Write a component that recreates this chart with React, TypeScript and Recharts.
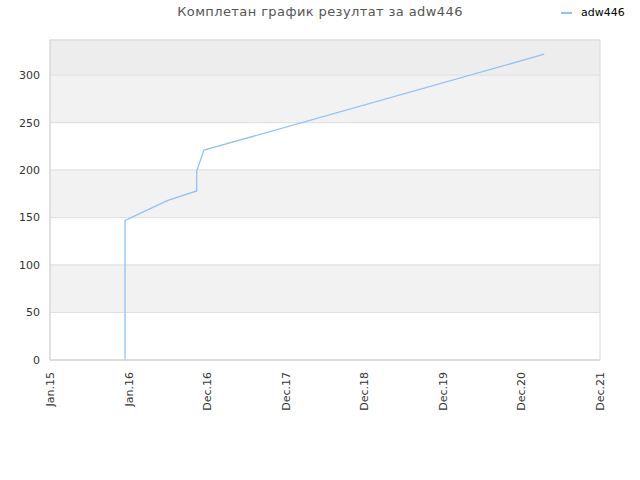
import { LineChart, Line, XAxis, YAxis, CartesianGrid, ReferenceArea, ReferenceLine } from "recharts";

// x position in "tick slots" (0 = Jan.15, 1 = Jan.16, ... 7 = Dec.21)
const tickLabels = ["Jan.15", "Jan.16", "Dec.16", "Dec.17", "Dec.18", "Dec.19", "Dec.20", "Dec.21"];
const xs = [0.955, 0.955, 1.5, 1.867, 1.867, 1.96, 6.29];
const scores = [0, 147, 168, 178, 199, 221, 322];
const yTicks = [0, 50, 100, 150, 200, 250, 300];
const bands = [
  { from: 50, to: 100, fill: "#f2f2f2" },
  { from: 150, to: 200, fill: "#f2f2f2" },
  { from: 250, to: 300, fill: "#f2f2f2" },
  { from: 300, to: 337, fill: "#ededed" },
];

const data = xs.map((x, i) => ({ x, score: scores[i] }));

const XTick = (props: any) => {
  const { x, y, payload } = props;
  return (
    <text
      x={x}
      y={y}
      transform={`rotate(-90, ${x}, ${y})`}
      textAnchor="end"
      dy={4}
      fontSize={11}
      fill="#333"
      fontFamily="DejaVu Sans"
    >
      {tickLabels[payload.value]}
    </text>
  );
};

export default function App() {
  return (
    <div style={{ position: "absolute", left: 0, top: 0, width: 640, height: 480, background: "#fff" }}>
      <div
        style={{
          position: "absolute",
          top: 4,
          left: 2,
          width: 636,
          textAlign: "center",
          fontFamily: "DejaVu Sans",
          fontSize: 13,
          color: "#555",
          letterSpacing: 0.4,
        }}
      >
        Комплетан график резултат за adw446
      </div>
      <div
        style={{
          position: "absolute",
          top: 6,
          left: 561,
          display: "flex",
          alignItems: "center",
          fontFamily: "DejaVu Sans",
          fontSize: 11,
          color: "#000",
        }}
      >
        <span style={{ display: "inline-block", width: 11, height: 2, background: "#90c2f5", marginRight: 9 }} />
        adw446
      </div>
      <LineChart width={640} height={480} data={data} margin={{ top: 40, right: 40, bottom: 0, left: 0 }}>
        <CartesianGrid vertical={false} stroke="#e0e0e0" strokeDasharray="" />
        {bands.map((b, i) => (
          <ReferenceArea key={i} y1={b.from} y2={b.to} fill={b.fill} fillOpacity={1} stroke="none" ifOverflow="hidden" />
        ))}
        {yTicks.map((t) => (
          <ReferenceLine key={t} y={t} stroke="#e0e0e0" strokeWidth={1} />
        ))}
        <ReferenceArea x1={0} x2={7} y1={0} y2={337} fill="none" stroke="#d8d8d8" strokeWidth={1} ifOverflow="visible" />
        <XAxis
          dataKey="x"
          type="number"
          domain={[0, 7]}
          ticks={[0, 1, 2, 3, 4, 5, 6, 7]}
          interval={0}
          tick={<XTick />}
          tickLine={false}
          tickSize={0}
          tickMargin={12}
          height={120}
          stroke="#d8d8d8"
        />
        <YAxis
          type="number"
          domain={[0, 337]}
          ticks={yTicks}
          allowDataOverflow
          width={50}
          tickLine={false}
          tickSize={0}
          tickMargin={10}
          stroke="#d8d8d8"
          tick={{ fontSize: 11, fill: "#333", fontFamily: "DejaVu Sans" }}
        />
        <Line
          type="linear"
          dataKey="score"
          stroke="#90c2f5"
          strokeWidth={1.3}
          dot={false}
          isAnimationActive={false}
        />
      </LineChart>
    </div>
  );
}
